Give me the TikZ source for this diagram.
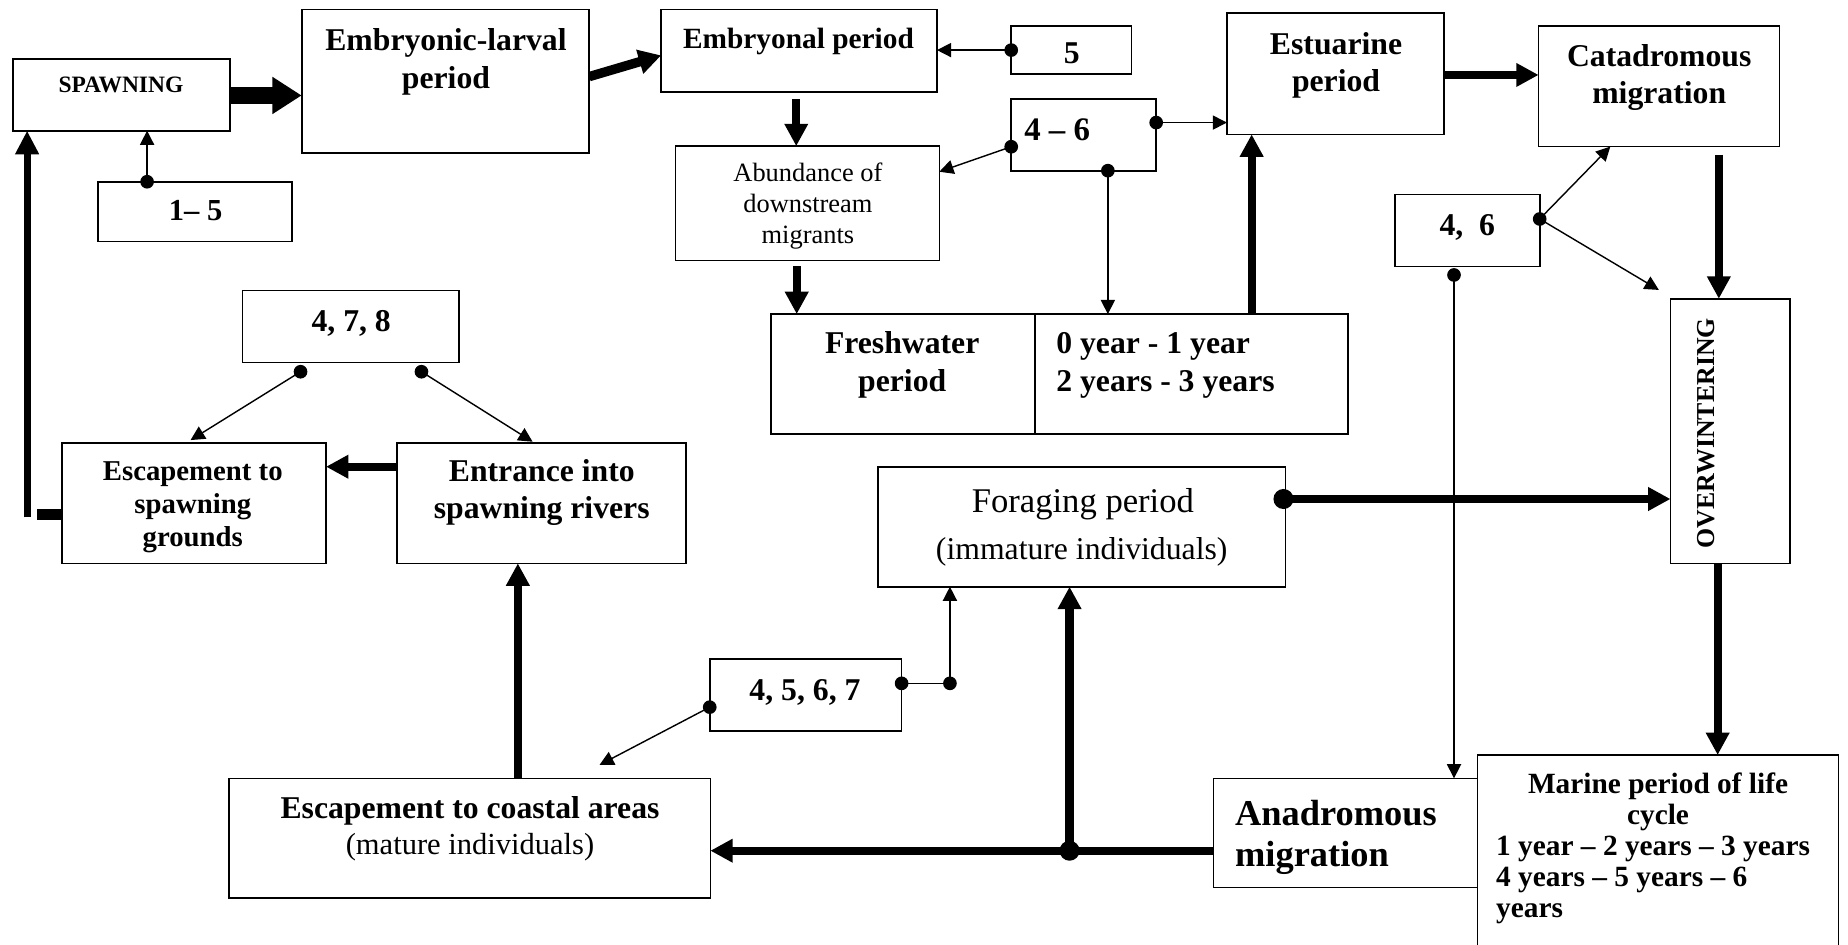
\documentclass[tikz,border=0pt]{standalone}
\usepackage{fontspec}
\setmainfont{Liberation Serif}
\usetikzlibrary{arrows.meta}
\begin{document}
\begin{tikzpicture}[x=1bp,y=-1bp,
  box/.style={draw, line width=1.4bp, inner sep=0pt, outer sep=0pt, anchor=north west},
  lbl/.style={inner sep=0pt, outer sep=0pt, anchor=base, align=center},
  lbll/.style={inner sep=0pt, outer sep=0pt, anchor=base west, align=left},
  thinarr/.style={line width=1.2bp, -{Triangle[width=12bp,length=12bp]}},
  thkarr/.style={line width=7bp, -{Triangle[width=19bp,length=19bp]}},
  bfa/.style={font=\fontsize{27}{32}\selectfont\bfseries},
]
\useasboundingbox (0,0) rectangle (1568,801);

% ---------- boxes ----------
\node[box, minimum width=183.7bp, minimum height=60.6bp] (spawn) at (11.3,50.3) {};
\node[box, minimum width=244bp, minimum height=122bp] (emb) at (256,8) {};
\node[box, minimum width=164.4bp, minimum height=50.8bp] (onefive) at (83.2,154.2) {};
\node[box, minimum width=234bp, minimum height=70bp] (embryonal) at (561,8) {};
\node[box, minimum width=102bp, minimum height=41bp] (five) at (858,22) {};
\node[box, minimum width=123bp, minimum height=61bp] (f46) at (858,84) {};
\node[box, minimum width=224bp, minimum height=97bp] (abund) at (573,124) {};
\node[box, minimum width=224bp, minimum height=102bp] (fresh) at (654,266.5) {};
\node[box, minimum width=265.7bp, minimum height=102bp] (years) at (878,266.5) {};
\node[box, minimum width=184bp, minimum height=102.7bp] (estu) at (1041,11.3) {};
\node[box, minimum width=204.5bp, minimum height=102.6bp] (cata) at (1305.5,21.8) {};
\node[box, minimum width=122.7bp, minimum height=61bp] (f46b) at (1183.7,165) {};
\node[box, minimum width=101.6bp, minimum height=224.5bp] (overw) at (1417.4,253.5) {};
\node[box, minimum width=306.4bp, minimum height=200bp] (marine) at (1253.6,640.6) {};
\node[box, minimum width=224.1bp, minimum height=92.6bp] (anad) at (1029.5,660.4) {};
\node[box, minimum width=345.8bp, minimum height=101.8bp] (forag) at (745,396) {};
\node[box, minimum width=162.8bp, minimum height=61bp] (f4567) at (602.2,559) {};
\node[box, minimum width=408.4bp, minimum height=101.8bp] (coastal) at (194.3,660.4) {};
\node[box, minimum width=245.2bp, minimum height=102.4bp] (entr) at (337,375.6) {};
\node[box, minimum width=224bp, minimum height=102.4bp] (escsp) at (52.6,375.6) {};
\node[box, minimum width=183.8bp, minimum height=61.1bp] (f478) at (205.7,246.6) {};

% ---------- texts (anchor = baseline of last line) ----------
\node[lbl, font=\fontsize{20}{24}\selectfont\bfseries] (spawnT) at (102.6,78.6) {SPAWNING};
\node[lbl, font=\fontsize{27}{32.3}\selectfont\bfseries] (embT) at (378.4,74.7) {Embryonic-larval\\period};
\node[lbl, font=\fontsize{26}{30}\selectfont\bfseries] (onefiveT) at (166,186.7) {1– 5};
\node[lbl, font=\fontsize{25}{30}\selectfont\bfseries] (embryonalT) at (677.5,41) {Embryonal period};
\node[lbl, bfa] (fiveT) at (909.4,53.7) {5};
\node[lbl, font=\fontsize{28}{32}\selectfont\bfseries] (f46T) at (897,118.8) {4 – 6};
\node[lbl, font=\fontsize{22.5}{26.3}\selectfont] (abundT) at (685.5,206.6) {Abundance of\\downstream\\migrants};
\node[lbl, font=\fontsize{27}{32.5}\selectfont\bfseries] (freshT) at (765.5,332.3) {Freshwater\\period};
\node[lbll, font=\fontsize{27}{32.5}\selectfont\bfseries] (yearsT) at (896.3,332.3) {0 year - 1 year\\2 years - 3 years};
\node[lbl, bfa] (estuT) at (1133.6,77.8) {Estuarine\\period};
\node[lbl, font=\fontsize{27}{31}\selectfont\bfseries] (cataT) at (1407.8,87.6) {Catadromous\\migration};
\node[lbl, bfa] (f46bT) at (1245,199.4) {4,\ \ 6};
\node[inner sep=0pt, rotate=90, font=\fontsize{22}{26}\selectfont\bfseries] (overwT) at (1448,367.6) {OVERWINTERING};
\node[lbl, bfa] (f478T) at (298,281.4) {4, 7, 8};
\node[lbl, font=\fontsize{24.5}{28.3}\selectfont\bfseries] (escspT) at (163.6,463.9) {Escapement to\\spawning\\grounds};
\node[lbl, font=\fontsize{27}{31}\selectfont\bfseries] (entrT) at (459.7,439.7) {Entrance into\\spawning rivers};
\node[lbl, font=\fontsize{29.5}{34}\selectfont] (foragT) at (918.8,435) {Foraging period};
\node[lbl, font=\fontsize{27}{32}\selectfont] (foragT2) at (917.8,475) {(immature individuals)};
\node[lbl, bfa] (f4567T) at (683,594) {4, 5, 6, 7};
\node[lbl, bfa] (coastT) at (398.8,694.3) {Escapement to coastal areas};
\node[lbl, font=\fontsize{26}{30}\selectfont] (coastT2) at (398.8,725.4) {(mature individuals)};
\node[lbll, font=\fontsize{31}{35.4}\selectfont\bfseries] (anadT) at (1048,735.4) {Anadromous\\migration};
\node[lbl, font=\fontsize{25}{26.3}\selectfont\bfseries] (marineT) at (1406.8,699.3) {Marine period of life\\cycle};
\node[lbll, font=\fontsize{25}{26.3}\selectfont\bfseries] (marineT2) at (1269.5,778.2) {1 year – 2 years – 3 years\\4 years – 5 years – 6\\years};

% ---------- connector points ----------
\coordinate (dA) at (124.8,154.2);
\coordinate (d46L) at (858,124.5);
\coordinate (d46R) at (981,104);
\coordinate (d46B) at (940,144.8);
\coordinate (d46bR) at (1306.4,185.8);
\coordinate (d46bB) at (1233.7,233.3);
\coordinate (c46end) at (1407.5,246);
\coordinate (d478a) at (255,315.4);
\coordinate (d478b) at (357.6,315.4);
\coordinate (e478a) at (161.7,373.4);
\coordinate (e478b) at (451.9,374.8);
\coordinate (d4567L) at (602.2,600);
\coordinate (e4567L) at (508.7,649);
\coordinate (d4567R) at (765,579.8);
\coordinate (d4567X) at (806,579.8);
\coordinate (dForag) at (1089,423.4);
\coordinate (dJunc) at (907.5,721.8);
\coordinate (loopA) at (31,436.5);
\coordinate (loopB) at (23,439);

% ---------- thick connectors ----------
\draw[line width=14bp, -{Triangle[width=30bp,length=25bp]}] (spawn.east |- 0,81) -- (emb.west |- 0,81);
\draw[line width=8bp, -{Triangle[width=20bp,length=19bp]}] (emb.east |- 0,65) -- (embryonal.west |- 0,47);
\draw[thkarr] (675.6,84) -- (675.6,0 |- abund.north);
\draw[thkarr] (676,226) -- (676,0 |- fresh.north);
\draw[thkarr] (1062,0 |- years.north) -- (1062,0 |- estu.south);
\draw[thkarr] (estu.east |- 0,63.6) -- (cata.west |- 0,63.6);
\draw[thkarr] (1458.4,131.5) -- (1458.4,0 |- overw.north);
\draw[thkarr] (1457.4,0 |- overw.south) -- (1457.4,0 |- marine.north);
\draw[thkarr] (dForag) -- (overw.west |- dForag);
\draw[thkarr] (anad.west |- dJunc) -- (coastal.east |- dJunc);
\draw[thkarr] (dJunc) -- (dJunc |- forag.south);
\draw[thkarr] (439.4,0 |- coastal.north) -- (439.4,0 |- entr.south);
\draw[thkarr] (entr.west |- 0,396) -- (escsp.east |- 0,396);
\draw[line width=9bp] (escsp.west |- loopA) -- (loopA);
\draw[line width=6bp, -{Triangle[width=19bp,length=20bp]}] (loopB) -- (loopB |- spawn.south);
\fill (dForag) circle (8.5bp);
\fill (dJunc) circle (8.5bp);

% ---------- thin connectors ----------
\draw[thinarr] (dA) -- (dA |- spawn.south);
\draw[thinarr] (five.west) -- (embryonal.east |- five.west);
\draw[thinarr] (d46L) -- (abund.east |- 0,145.7);
\draw[thinarr] (d46R) -- (estu.west |- d46R);
\draw[thinarr] (d46B) -- (d46B |- years.north);
\draw[thinarr] (d46bR) -- (1366.3,0 |- cata.south);
\draw[thinarr] (d46bR) -- (c46end);
\draw[thinarr] (d46bB) -- (d46bB |- anad.north);
\draw[thinarr] (d478a) -- (e478a);
\draw[thinarr] (d478b) -- (e478b);
\draw[thinarr] (d4567L) -- (e4567L);
\draw[line width=1.2bp] (d4567R) -- (d4567X);
\draw[thinarr] (d4567X) -- (d4567X |- forag.south);
\foreach \p in {dA,five.west,d46L,d46R,d46B,d46bR,d46bB,d478a,d478b,d4567L,d4567R,d4567X}
  \fill (\p) circle (5.8bp);
\end{tikzpicture}
\end{document}
